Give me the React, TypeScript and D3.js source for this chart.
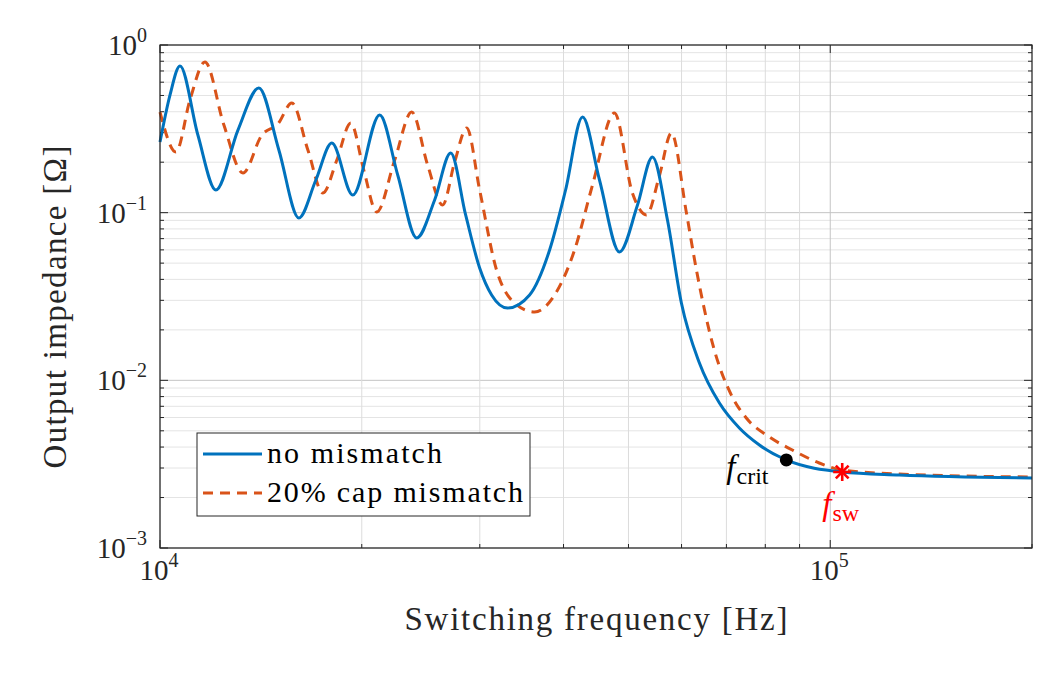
import React from 'react'
import * as d3 from 'd3'

// no mismatch
const freqBlue = [10000, 10349, 10710, 11390, 12118, 13071, 14043, 15043, 16114, 17082, 18045, 19393, 21270, 22630, 24155, 25690, 27150, 28577, 29986, 31245, 33003, 35600, 38133, 40284, 42700, 45260, 48478, 51574, 54293, 57166, 59970, 63800, 68340, 73180, 78400, 85990, 104200, 126700, 200000]
const zBlue = [0.264, 0.503, 0.749, 0.2905, 0.1365, 0.311, 0.554, 0.2365, 0.0929, 0.1566, 0.2603, 0.1274, 0.3825, 0.1677, 0.0706, 0.119, 0.227, 0.0969, 0.0468, 0.0323, 0.027, 0.0323, 0.0599, 0.1365, 0.372, 0.1566, 0.0583, 0.111, 0.2148, 0.0904, 0.0289, 0.01269, 0.00732, 0.005196, 0.004113, 0.003349, 0.00284, 0.002725, 0.002615]

// 20% cap mismatch
const freqRed = [10000, 10564, 11084, 11668, 12455, 13296, 14191, 14993, 15730, 16620, 17500, 18360, 19260, 20137, 21053, 22396, 23744, 25078, 26400, 27520, 28680, 29986, 31780, 33460, 36220, 38790, 41550, 44190, 47650, 50680, 53190, 55640, 57950, 61020, 63150, 66700, 71430, 74950, 81140, 87790, 96300, 104200, 126700, 200000]
const zRed = [0.398, 0.23, 0.47, 0.792, 0.333, 0.1724, 0.2905, 0.338, 0.451, 0.2365, 0.131, 0.206, 0.3425, 0.1797, 0.1009, 0.206, 0.398, 0.1924, 0.111, 0.2005, 0.3199, 0.1365, 0.0455, 0.0301, 0.02556, 0.0323, 0.0599, 0.1462, 0.393, 0.131, 0.0969, 0.1677, 0.2987, 0.0995, 0.0455, 0.0167, 0.00796, 0.00596, 0.00459, 0.00384, 0.003214, 0.00292, 0.002763, 0.002651]

const seriesNames = ['no mismatch', '20% cap mismatch']
const xMajor = [1e4, 1e5]
const yMajor = [1e0, 1e-1, 1e-2, 1e-3]

const fCrit = 86000
const zCrit = 0.00335
const fSw = 104200
const zSw = 0.00284

const W = 1058
const H = 688
const left = 160
const right = 1032
const top = 45
const bottom = 548

const BLUE = '#0072BD'
const ORANGE = '#D95319'
const FONT = '"Liberation Serif", "DejaVu Serif", serif'

const sup = (e: number) => (e < 0 ? '\u2212' + Math.abs(e) : String(e))

export default function App() {
  const x = d3.scaleLog().domain([1e4, 2e5]).range([left, right])
  const y = d3.scaleLog().domain([1e-3, 1]).range([bottom, top])

  const line = d3
    .line<[number, number]>()
    .x(d => x(d[0]))
    .y(d => y(d[1]))
    .curve(d3.curveMonotoneX)

  const blue = line(freqBlue.map((f, i) => [f, zBlue[i]]))
  const red = line(freqRed.map((f, i) => [f, zRed[i]]))

  const xAll = x.ticks()
  const yAll = y.ticks()
  const isMajorY = (v: number) => Math.abs(Math.log10(v) - Math.round(Math.log10(v))) < 1e-6

  const sx = x(fSw)
  const sy = y(zSw)
  const star = [0, 45, 90, 135].map(a => {
    const r = 9
    const rad = (a * Math.PI) / 180
    return [sx - r * Math.cos(rad), sy - r * Math.sin(rad), sx + r * Math.cos(rad), sy + r * Math.sin(rad)]
  })

  return (
    <svg width={W} height={H} style={{ position: 'absolute', left: 0, top: 0, background: '#fff' }} fontFamily={FONT}>
      <rect x={left} y={top} width={right - left} height={bottom - top} fill="#fff" />
      {/* grid */}
      {yAll.map((v, i) => (
        <line key={'gy' + i} x1={left} x2={right} y1={y(v)} y2={y(v)} stroke={isMajorY(v) ? '#c4c4c4' : '#e4e4e4'} strokeWidth={1} />
      ))}
      {xAll.map((v, i) => (
        <line key={'gx' + i} x1={x(v)} x2={x(v)} y1={top} y2={bottom} stroke={xMajor.includes(v) ? '#c4c4c4' : '#dcdcdc'} strokeWidth={1} />
      ))}
      {/* ticks */}
      {yAll.map((v, i) => {
        const len = isMajorY(v) ? 8 : 4
        return (
          <g key={'ty' + i} stroke="#262626">
            <line x1={left} x2={left + len} y1={y(v)} y2={y(v)} />
            <line x1={right} x2={right - len} y1={y(v)} y2={y(v)} />
          </g>
        )
      })}
      {xAll.map((v, i) => {
        const len = xMajor.includes(v) ? 8 : 4
        return (
          <g key={'tx' + i} stroke="#262626">
            <line x1={x(v)} x2={x(v)} y1={bottom} y2={bottom - len} />
            <line x1={x(v)} x2={x(v)} y1={top} y2={top + len} />
          </g>
        )
      })}
      {/* curves */}
      <path d={red ?? ''} fill="none" stroke={ORANGE} strokeWidth={3} strokeDasharray="10 7" />
      <path d={blue ?? ''} fill="none" stroke={BLUE} strokeWidth={3} />
      <rect x={left} y={top} width={right - left} height={bottom - top} fill="none" stroke="#262626" strokeWidth={1.2} />

      {/* markers */}
      <circle cx={x(fCrit)} cy={y(zCrit)} r={6.5} fill="#000" />
      {star.map((s, i) => (
        <line key={'st' + i} x1={s[0]} y1={s[1]} x2={s[2]} y2={s[3]} stroke="#ff0000" strokeWidth={2.6} />
      ))}
      <text x={x(fCrit) - 60} y={y(zCrit) + 18} fontSize={33} fill="#000">
        <tspan fontStyle="italic">f</tspan>
        <tspan fontSize={24} dy={6} dx={1}>crit</tspan>
      </text>
      <text x={sx - 20} y={sy + 43} fontSize={33} fill="#ff0000">
        <tspan fontStyle="italic">f</tspan>
        <tspan fontSize={24} dy={6} dx={1}>sw</tspan>
      </text>

      {/* tick labels */}
      {yMajor.map((v, i) => (
        <text key={'yl' + i} x={147} y={y(v) + 10} fontSize={29} textAnchor="end" fill="#262626">
          10<tspan fontSize={20} dy={-13}>{sup(Math.round(Math.log10(v)))}</tspan>
        </text>
      ))}
      {xMajor.map((v, i) => (
        <text key={'xl' + i} x={x(v) - 1} y={580} fontSize={29} textAnchor="middle" fill="#262626">
          10<tspan fontSize={20} dy={-13}>{sup(Math.round(Math.log10(v)))}</tspan>
        </text>
      ))}

      {/* axis labels */}
      <text x={(left + right) / 2} y={630} fontSize={33} textAnchor="middle" textLength={383} lengthAdjust="spacing" fill="#262626">
        Switching frequency [Hz]
      </text>
      <text transform={`translate(66, 307) rotate(-90)`} fontSize={33} textAnchor="middle" textLength={323} lengthAdjust="spacing" fill="#262626">
        Output impedance [Ω]
      </text>

      {/* legend */}
      <g>
        <rect x={197} y={433} width={333} height={83} fill="#fff" stroke="#262626" strokeWidth={1} />
        <line x1={203} x2={262} y1={454} y2={454} stroke={BLUE} strokeWidth={3} />
        <line x1={203} x2={262} y1={493} y2={493} stroke={ORANGE} strokeWidth={3} strokeDasharray="10 7" />
        <text x={267} y={463} fontSize={30} fill="#000" textLength={175} lengthAdjust="spacing">{seriesNames[0]}</text>
        <text x={267} y={502} fontSize={30} fill="#000" textLength={256} lengthAdjust="spacing">{seriesNames[1]}</text>
      </g>
    </svg>
  )
}
